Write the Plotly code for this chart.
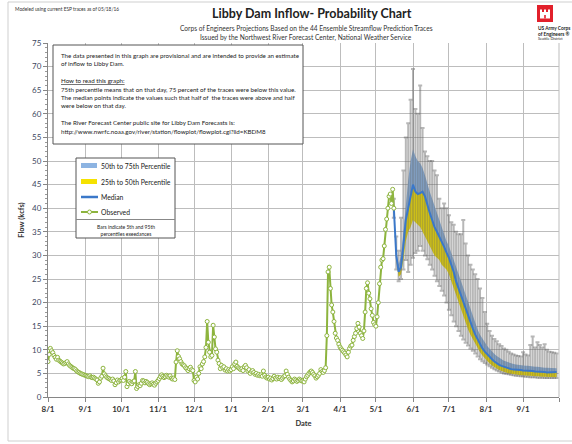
import plotly.graph_objects as go
import pandas as pd

# ---------------- data ----------------
# Observed daily inflow (kcfs), 2015-08-01 .. 2016-05-16
obs_aug = [7.5, 9.0, 10.3, 9.8, 9.4, 8.8, 8.4, 8.0, 8.4, 7.8, 7.6, 7.4, 7.2, 7.0, 7.1, 7.3, 7.5, 7.0, 6.7, 6.5,
           6.3, 6.1, 6.0, 5.8, 5.5, 5.3, 5.2, 5.0, 4.9, 4.8, 4.7]
obs_sep = [4.6, 4.5, 4.4, 4.3, 4.5, 4.2, 4.1, 4.2, 4.0, 3.8, 3.6, 2.9, 3.2, 4.0, 4.4, 6.1, 4.9, 4.5, 4.2, 4.0,
           3.9, 3.7, 3.5, 3.8, 3.4, 2.6, 3.0, 3.6, 3.2, 3.5]
obs_oct = [3.6, 3.9, 3.5, 4.2, 5.4, 2.2, 2.8, 3.3, 3.0, 2.8, 3.2, 3.4, 5.4, 1.8, 2.2, 2.6, 2.4, 2.9, 3.5, 3.4,
           3.0, 3.3, 3.1, 2.8, 2.6, 2.8, 3.0, 2.7, 2.5, 2.9, 3.2]
obs_nov = [3.5, 3.9, 4.3, 4.7, 4.4, 4.1, 4.3, 4.6, 4.4, 4.2, 4.5, 4.0, 3.8, 4.0, 3.7, 7.4, 9.8, 8.6, 8.1, 7.5,
           7.0, 6.8, 6.6, 6.2, 6.0, 5.6, 6.0, 6.3, 5.8, 5.6]
obs_dec = [3.5, 3.2, 4.2, 3.8, 5.0, 6.4, 6.0, 7.0, 7.5, 8.5, 10.5, 16.0, 11.6, 9.5, 8.5, 8.8, 15.2, 12.7, 10.2, 9.5,
           7.8, 7.1, 6.0, 6.7, 6.2, 6.4, 5.7, 6.0, 5.5, 5.8, 5.5]
obs_jan = [5.8, 6.4, 6.0, 7.0, 7.4, 6.5, 6.2, 6.0, 5.8, 6.0, 5.6, 6.4, 6.7, 6.2, 5.5, 5.8, 5.0, 5.4, 5.6, 5.2,
           4.8, 5.0, 4.6, 4.8, 4.5, 4.7, 4.4, 5.5, 4.6, 4.2, 4.0]
obs_feb = [4.2, 3.8, 4.0, 3.6, 3.9, 4.4, 4.0, 3.8, 4.2, 3.9, 4.1, 3.7, 4.0, 4.3, 4.5, 5.5, 4.8, 4.2, 3.8, 3.5,
           3.2, 3.4, 3.8, 3.6, 3.3, 3.5, 3.8, 3.6, 3.4]
obs_mar = [3.4, 3.2, 3.8, 4.3, 4.6, 5.0, 5.3, 5.5, 5.2, 4.8, 4.5, 4.0, 4.3, 4.6, 5.0, 5.8, 5.4, 5.2, 5.6, 6.2,
           13.0, 26.5, 27.5, 23.0, 19.5, 18.0, 16.0, 13.5, 12.5, 12.0, 11.2]
obs_apr = [10.6, 10.2, 9.9, 9.6, 9.3, 8.9, 8.5, 9.5, 10.3, 10.8, 11.0, 12.0, 12.8, 13.5, 14.5, 15.6, 14.8, 13.5,
           13.0, 12.4, 14.0, 18.0, 23.0, 24.2, 22.0, 20.8, 18.7, 17.3, 15.8, 15.3]
obs_may = [15.0, 17.0, 20.0, 24.0, 27.5, 29.0, 29.3, 32.0, 35.5, 37.7, 40.0, 42.5, 43.0, 41.0, 44.0, 40.0]

# ESP forecast percentiles, every 2 days from 2016-05-16 (8 May, 15 Jun, 16 Jul, 15 Aug, 15 Sep)
fc_p05 = [38, 27, 24.5, 25, 27, 29, 26.5, 28,
          29.5, 30.5, 31, 32, 31, 30, 29.2, 28, 27, 25.7, 24.5, 23.5, 22.5, 21.5, 20,
          18.5, 17.3, 16, 15, 14, 13, 12.2, 11.5, 10.9, 10.3, 9.8, 9.2, 8.6, 8.0, 7.6, 7.2,
          6.9, 6.5, 6.2, 5.9, 5.6, 5.4, 5.2, 5.0, 4.9, 4.8, 4.7, 4.6, 4.5, 4.5, 4.4,
          4.4, 4.3, 4.3, 4.2, 4.2, 4.2, 4.1, 4.1, 4.1, 4.0, 4.0, 4.0, 4.0, 4.0, 4.0]
fc_p25 = [40, 29, 25.5, 26, 29, 33, 35, 36,
          37.5, 37, 36.5, 36, 35, 34, 33, 32, 31, 30, 29.5, 29, 28, 27.5, 27,
          26, 24.5, 23, 21.5, 20, 18.5, 17, 15.5, 14.3, 13.2, 12.2, 11.2, 10.3, 9.5, 8.8, 8.2,
          7.6, 7.1, 6.7, 6.3, 6.0, 5.7, 5.5, 5.3, 5.1, 5.0, 4.9, 4.8, 4.7, 4.7, 4.6,
          4.6, 4.5, 4.5, 4.5, 4.4, 4.4, 4.4, 4.3, 4.3, 4.3, 4.3, 4.3, 4.2, 4.2, 4.2]
fc_median = [40, 30, 26.5, 27.5, 32, 37.5, 40, 42.5,
             45, 43.5, 43, 43.2, 43.5, 42.5, 40.5, 39, 37.5, 36, 35, 34, 32.8, 31.8, 30.6,
             29.5, 28, 26.5, 24.5, 23, 21.5, 20, 18.5, 17.2, 16, 14.5, 13.2, 12.2, 11.2, 10.3, 9.6,
             9.0, 8.5, 8.0, 7.5, 7.1, 6.8, 6.6, 6.4, 6.2, 6.0, 5.9, 5.8, 5.8, 5.7, 5.7,
             5.6, 5.6, 5.5, 5.5, 5.5, 5.4, 5.4, 5.3, 5.3, 5.3, 5.2, 5.2, 5.2, 5.3, 5.3]
fc_p75 = [40, 31, 28, 30, 35, 41, 46, 50,
          52.5, 51, 50, 49.5, 48.5, 47, 45, 43.5, 42, 40.5, 39, 37.5, 36, 34.5, 33,
          32, 30.5, 29, 27.5, 26, 24.5, 23, 21.5, 20, 18.5, 17, 15.5, 14.3, 13.2, 12.3, 11.5,
          10.8, 10.2, 9.6, 9.1, 8.7, 8.3, 8.0, 7.7, 7.5, 7.3, 7.1, 7.0, 6.9, 6.8, 6.7,
          6.7, 6.6, 6.6, 6.5, 6.5, 6.4, 6.4, 6.3, 6.3, 6.2, 6.2, 6.2, 6.1, 6.1, 6.1]
fc_p95 = [42, 34, 31, 38, 48, 55, 58, 63,
          69.5, 61, 60, 66, 57, 52, 51, 50, 50, 48, 47, 42, 40, 41, 40,
          38.5, 37, 36.5, 35, 34.5, 34.5, 37.5, 32.5, 30, 28, 27, 26, 25, 23, 21, 18,
          15.5, 14, 13, 12.3, 11.8, 11.2, 10.8, 10.3, 10.0, 9.6, 9.2, 9.0, 8.8, 8.7, 8.6,
          9.5, 9.0, 8.8, 11.0, 12.8, 10.5, 11.6, 11.0, 10.5, 11.2, 10.0, 9.6, 9.5, 9.4, 9.2]

tick_dates = ["2015-08-01", "2015-09-01", "2015-10-01", "2015-11-01", "2015-12-01", "2016-01-01",
              "2016-02-01", "2016-03-01", "2016-04-01", "2016-05-01", "2016-06-01", "2016-07-01",
              "2016-08-01", "2016-09-01", "2016-10-01"]
tick_labels = ["8/1", "9/1", "10/1", "11/1", "12/1", "1/1", "2/1", "3/1", "4/1", "5/1", "6/1", "7/1",
               "8/1", "9/1", ""]

obs_values = obs_aug + obs_sep + obs_oct + obs_nov + obs_dec + obs_jan + obs_feb + obs_mar + obs_apr + obs_may
obs_dates = pd.date_range("2015-08-01", periods=len(obs_values), freq="D")
fc_dates = pd.date_range("2016-05-16", periods=len(fc_median), freq="2D")

# ---------------- style ----------------
FONT = "Lato"
GREEN = "#8db43e"
BLUE = "#3b78c9"
BAND_BLUE = "#8db4e2"
BAND_YEL = "#f5e200"

L, R, T, B = 48, 13, 43, 47
FW, FH = 572, 444
PW, PH = FW - L - R, FH - T - B


def px(x):
    return (x - L) / PW


def py(y):
    return (FH - B - y) / PH


fig = go.Figure()

# band 50-75
fig.add_trace(go.Scatter(x=fc_dates, y=fc_p75, mode="lines", line=dict(width=0, color=BAND_BLUE),
                         showlegend=False, hoverinfo="skip"))
fig.add_trace(go.Scatter(x=fc_dates, y=fc_median, mode="lines", line=dict(width=0, color=BAND_BLUE),
                         fill="tonexty", fillcolor=BAND_BLUE, showlegend=False, hoverinfo="skip"))
# band 25-50
fig.add_trace(go.Scatter(x=fc_dates, y=fc_p25, mode="lines", line=dict(width=0, color=BAND_YEL),
                         fill="tonexty", fillcolor=BAND_YEL, showlegend=False, hoverinfo="skip"))

# 5th-95th bars
err_plus = [a - b for a, b in zip(fc_p95, fc_median)]
err_minus = [b - a for a, b in zip(fc_p05, fc_median)]
fig.add_trace(go.Scatter(x=fc_dates, y=fc_median, mode="markers",
                         marker=dict(size=1, color="rgba(0,0,0,0)"),
                         error_y=dict(type="data", symmetric=False, array=err_plus, arrayminus=err_minus,
                                      color="rgba(95,95,95,0.45)", thickness=2, width=2),
                         showlegend=False, hoverinfo="skip"))

# median
fig.add_trace(go.Scatter(x=fc_dates, y=fc_median, mode="lines", line=dict(color=BLUE, width=2),
                         showlegend=False))
# observed
fig.add_trace(go.Scatter(x=obs_dates, y=obs_values, mode="lines+markers",
                         line=dict(color=GREEN, width=2),
                         marker=dict(symbol="circle", size=4, color="white", line=dict(color=GREEN, width=1)),
                         showlegend=False))

shapes = []
annots = []

# outer frame
shapes.append(dict(type="rect", xref="paper", yref="paper", x0=px(8), x1=px(580), y0=py(441), y1=py(2),
                   line=dict(color="#cfcfcf", width=1), layer="below"))
# right edge line of plot
shapes.append(dict(type="line", xref="paper", yref="paper", x0=1, x1=1, y0=0, y1=1,
                   line=dict(color="#bdbdbd", width=1)))

# info text box
shapes.append(dict(type="rect", xref="paper", yref="paper", x0=px(53), x1=px(303), y0=py(144), y1=py(45),
                   fillcolor="white", line=dict(color="#555555", width=1)))
info_lines = [
    (55, "The data presented in this graph are provisional and are intended to provide an estimate"),
    (63.5, "of inflow to Libby Dam."),
    (80.5, "<u>How to read this graph:</u>"),
    (89, "75th percentile means that on that day, 75 percent of the traces were below this value."),
    (97.5, "The median points indicate the values such that half of  the traces were above and half"),
    (106, "were below on that day."),
    (122, "The River Forecast Center public site for Libby Dam Forecasts is:"),
    (131.5, "http://www.nwrfc.noaa.gov/river/station/flowplot/flowplot.cgi?lid=KBDM8"),
]
for yy, txt in info_lines:
    annots.append(dict(xref="paper", yref="paper", x=px(59), y=py(yy), text=txt, showarrow=False,
                       xanchor="left", yanchor="middle", font=dict(family=FONT, size=6.2, color="#222")))

# legend box
shapes.append(dict(type="rect", xref="paper", yref="paper", x0=px(76), x1=px(175), y0=py(238), y1=py(158),
                   fillcolor="white", line=dict(color="#555555", width=1)))
shapes.append(dict(type="line", xref="paper", yref="paper", x0=px(76), x1=px(175), y0=py(219.5), y1=py(219.5),
                   line=dict(color="#888888", width=1)))
shapes.append(dict(type="rect", xref="paper", yref="paper", x0=px(81), x1=px(97), y0=py(168), y1=py(163),
                   fillcolor=BAND_BLUE, line=dict(width=0)))
shapes.append(dict(type="rect", xref="paper", yref="paper", x0=px(81), x1=px(97), y0=py(184), y1=py(179),
                   fillcolor=BAND_YEL, line=dict(width=0)))
shapes.append(dict(type="line", xref="paper", yref="paper", x0=px(81), x1=px(98), y0=py(197), y1=py(197),
                   line=dict(color=BLUE, width=2.5)))
shapes.append(dict(type="line", xref="paper", yref="paper", x0=px(81), x1=px(98), y0=py(212), y1=py(212),
                   line=dict(color=GREEN, width=2)))
shapes.append(dict(type="circle", xref="paper", yref="paper", x0=px(87.5), x1=px(91.5), y0=py(214), y1=py(210),
                   fillcolor="white", line=dict(color=GREEN, width=1)))
leg_items = [(165.5, "50th to 75th Percentile"), (181.5, "25th to 50th Percentile"),
             (197, "Median"), (212, "Observed")]
for yy, txt in leg_items:
    annots.append(dict(xref="paper", yref="paper", x=px(98.5), y=py(yy), text=txt, showarrow=False,
                       xanchor="left", yanchor="middle", font=dict(family=FONT, size=6.8, color="#222")))
annots.append(dict(xref="paper", yref="paper", x=px(125.5), y=py(230.5),
                   text="Bars indicate 5th and 95th<br>percentiles exeedances", showarrow=False,
                   xanchor="center", yanchor="middle", align="center",
                   font=dict(family=FONT, size=5, color="#222")))

# titles
annots.append(dict(xref="paper", yref="paper", x=px(312), y=py(14), text="<b>Libby Dam Inflow- Probability Chart</b>",
                   showarrow=False, xanchor="center", yanchor="middle",
                   font=dict(family=FONT, size=12.5, color="#222")))
annots.append(dict(xref="paper", yref="paper", x=px(306), y=py(28),
                   text="Corps of Engineers Projections Based on the 44 Ensemble Streamflow Prediction Traces",
                   showarrow=False, xanchor="center", yanchor="middle",
                   font=dict(family=FONT, size=6.6, color="#333")))
annots.append(dict(xref="paper", yref="paper", x=px(306), y=py(38),
                   text="Issued by the Northwest River Forecast Center, National Weather Service",
                   showarrow=False, xanchor="center", yanchor="middle",
                   font=dict(family=FONT, size=6.6, color="#333")))
annots.append(dict(xref="paper", yref="paper", x=px(13), y=py(9),
                   text="Modeled using current ESP traces as of 05/18/16",
                   showarrow=False, xanchor="left", yanchor="middle",
                   font=dict(family=FONT, size=4.8, color="#333")))

# logo
shapes.append(dict(type="rect", xref="paper", yref="paper", x0=px(537), x1=px(553), y0=py(22), y1=py(5),
                   fillcolor="#e2202b", line=dict(width=0)))
for (a, b, c, d) in [(540, 550, 12, 18.5), (540, 542, 9.5, 12), (544, 546, 9.5, 12), (548, 550, 9.5, 12)]:
    shapes.append(dict(type="rect", xref="paper", yref="paper", x0=px(a), x1=px(b), y0=py(d), y1=py(c),
                       fillcolor="white", line=dict(width=0)))
shapes.append(dict(type="rect", xref="paper", yref="paper", x0=px(544.2), x1=px(545.8), y0=py(18.5), y1=py(15),
                   fillcolor="#e2202b", line=dict(width=0)))
for yy, txt, sz in [(28.5, "<b>US Army Corps</b>", 4.8), (33.5, "<b>of Engineers ®</b>", 4.8),
                    (38.5, "Seattle District", 3.8)]:
    annots.append(dict(xref="paper", yref="paper", x=px(536), y=py(yy), text=txt, showarrow=False,
                       xanchor="left", yanchor="middle", font=dict(family=FONT, size=sz, color="#222")))

fig.update_layout(
    width=FW, height=FH,
    margin=dict(l=L, r=R, t=T, b=B, pad=0),
    paper_bgcolor="white", plot_bgcolor="white",
    showlegend=False,
    shapes=shapes, annotations=annots,
    font=dict(family=FONT),
    xaxis=dict(type="date", range=["2015-08-01", "2016-10-01"],
               tickmode="array", tickvals=tick_dates, ticktext=tick_labels,
               showgrid=True, gridcolor="#bdbdbd", gridwidth=1,
               showline=True, linecolor="#868686", linewidth=1,
               ticks="outside", ticklen=4, tickcolor="#868686",
               tickfont=dict(family=FONT, size=8, color="#333", weight="bold"),
               title=dict(text="<b>Date</b>", font=dict(family=FONT, size=7.5, color="#333"), standoff=8),
               zeroline=False),
    yaxis=dict(range=[0, 75], dtick=5, tick0=0,
               showgrid=True, gridcolor="#bdbdbd", gridwidth=1,
               showline=True, linecolor="#868686", linewidth=1,
               ticks="outside", ticklen=4, tickcolor="#868686",
               minor=dict(dtick=1, ticks="outside", ticklen=2, tickcolor="#9a9a9a", showgrid=False),
               tickfont=dict(family=FONT, size=8, color="#3d4660"),
               title=dict(text="<b>Flow (kcfs)</b>", font=dict(family=FONT, size=7.5, color="#333"), standoff=6),
               zeroline=False),
)

fig.write_html("out.html")
